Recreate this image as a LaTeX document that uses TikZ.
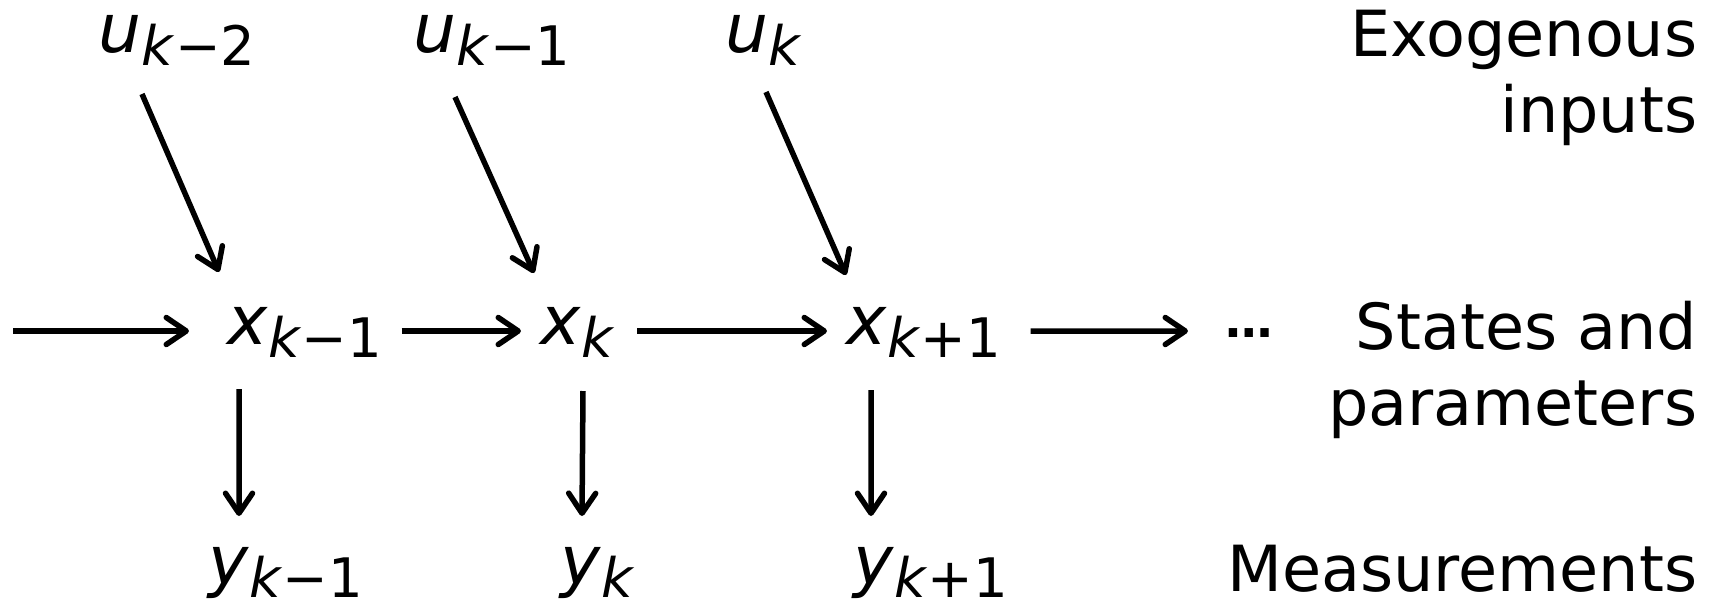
\documentclass[tikz,border=0pt]{standalone}
\usepackage{fontspec}
\setmainfont{DejaVu Sans}
\usetikzlibrary{arrows.meta}

% lowered time index, e.g. \ksub{-1} gives k-1
\newcommand{\ksub}[1]{\raisebox{-0.13cm}{\fontsize{15.5}{18}\selectfont\textit{k}#1}}

\begin{document}
\begin{tikzpicture}[
    var/.style={inner sep=0pt,anchor=base west,font=\fontsize{19.3}{23}\selectfont},
    lbl/.style={inner sep=0pt,anchor=base east,align=right,font=\fontsize{18.1}{21.6}\selectfont},
    arr/.style={line width=0.055cm,-{Straight Barb[length=0.2cm,width=0.27cm,round]}}
]
\useasboundingbox (0,0) rectangle (17.19,6.05);

% Eingaenge (oben)
\node[var] (u1) at (0.98,5.53) {\textit{u}\ksub{−2}};
\node[var] (u2) at (4.13,5.53) {\textit{u}\ksub{−1}};
\node[var] (u3) at (7.25,5.53) {\textit{u}\ksub{}};

% Zustaende (Mitte)
\node[var] (x1) at (2.27,2.61) {\textit{x}\ksub{−1}};
\node[var] (x2) at (5.40,2.61) {\textit{x}\ksub{}};
\node[var] (x3) at (8.46,2.61) {\textit{x}\ksub{+1}};
\node[inner sep=0pt,anchor=base west,font=\fontsize{13.5}{15}\selectfont\bfseries] (dots) at (12.25,2.68) {…};
\coordinate (start) at (0.13,2.74);

% Messungen (unten)
\node[var] (y1) at (2.08,0.21) {\textit{y}\ksub{−1}};
\node[var] (y2) at (5.60,0.21) {\textit{y}\ksub{}};
\node[var] (y3) at (8.53,0.21) {\textit{y}\ksub{+1}};

% Beschriftung rechts (base = letzte Zeile)
\node[lbl] (lin) at (16.98,4.73) {Exogenous\\inputs};
\node[lbl] (lst) at (16.98,1.80) {States and\\parameters};
\node[lbl] (lme) at (16.98,0.14) {Measurements};

% Pfeile u -> x
\draw[arr] ([shift={(0.44,-0.42)}]u1.base west) -- ([shift={(-0.08,0.72)}]x1.base west);
\draw[arr] ([shift={(0.42,-0.45)}]u2.base west) -- ([shift={(-0.06,0.71)}]x2.base west);
\draw[arr] ([shift={(0.41,-0.40)}]u3.base west) -- ([shift={(0,0.69)}]x3.base west);

% Pfeile x -> x
\draw[arr] (start) -- ([shift={(-0.38,0.13)}]x1.base west);
\draw[arr] ([shift={(0.19,0.13)}]x1.base east) -- ([shift={(-0.19,0.13)}]x2.base west);
\draw[arr] ([shift={(0.22,0.13)}]x2.base east) -- ([shift={(-0.19,0.13)}]x3.base west);
\draw[arr] ([shift={(0.29,0.13)}]x3.base east) -- ([shift={(-0.37,0.06)}]dots.base west);

% Pfeile x -> y
\draw[arr] ([shift={(0.12,-0.45)}]x1.base west) -- ([shift={(0.31,0.68)}]y1.base west);
\draw[arr] ([shift={(0.43,-0.47)}]x2.base west) -- ([shift={(0.22,0.68)}]y2.base west);
\draw[arr] ([shift={(0.25,-0.46)}]x3.base west) -- ([shift={(0.18,0.68)}]y3.base west);

\end{tikzpicture}
\end{document}
